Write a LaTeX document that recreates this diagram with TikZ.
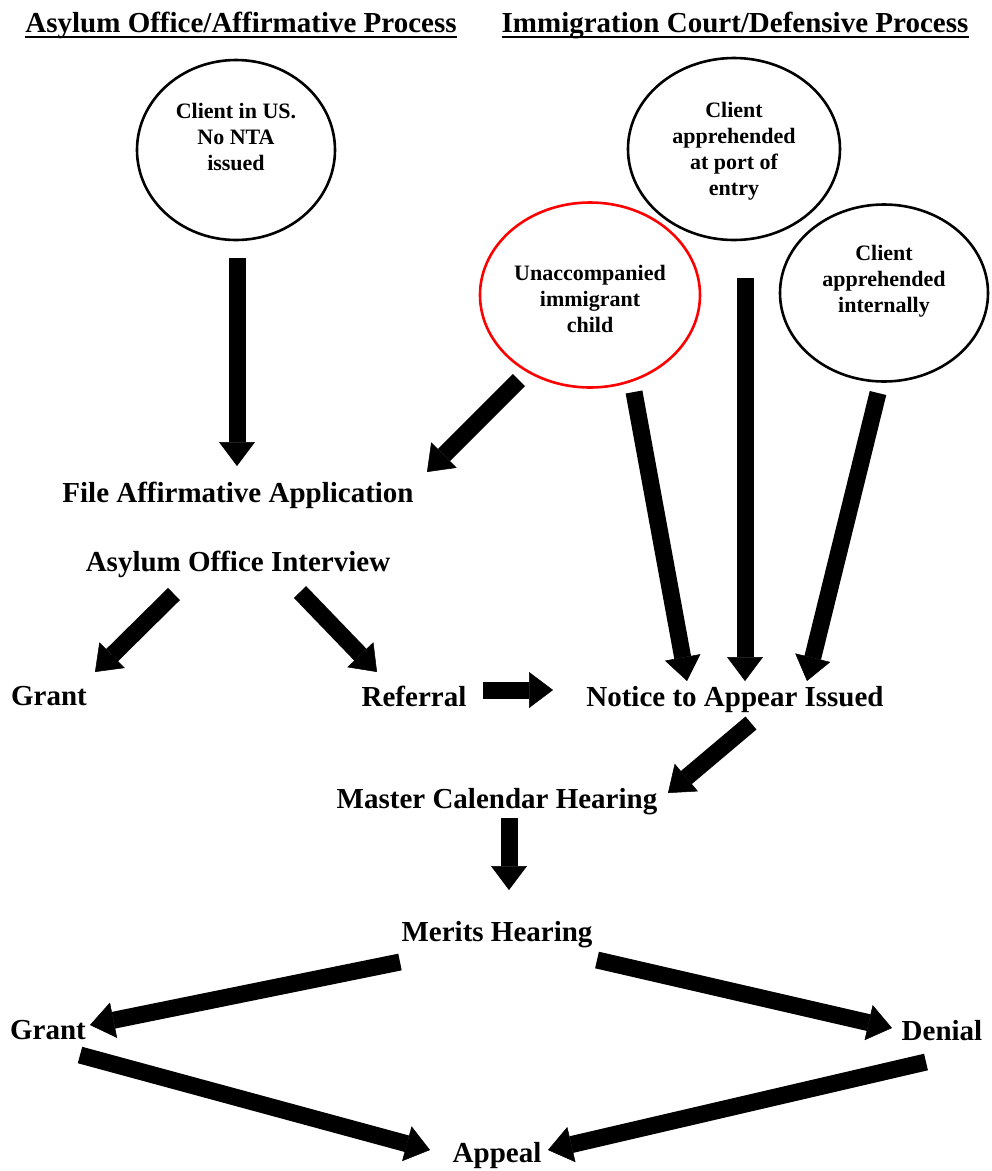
\documentclass[tikz,border=0pt]{standalone}
\usepackage{fontspec}
\setmainfont{Liberation Serif}
\usetikzlibrary{arrows.meta,shapes.geometric}

\begin{document}
\begin{tikzpicture}[x=1pt,y=-1pt,
	every node/.style={font=\fontsize{29}{33}\selectfont\bfseries, inner sep=0pt, text depth=0pt},
	bubble/.style={ellipse, draw, line width=2.6pt},
	bubbletext/.style={align=center, font=\fontsize{22}{26}\selectfont\bfseries},
	heading/.style={anchor=base},
	heavy/.style={line width=17pt, -{Triangle[length=24pt,width=36pt,line width=0.5pt]}}]
	
	\useasboundingbox (0,0) rectangle (992,1171);
	
	% headings
	\node[heading] (affirm) at (241,32) {Asylum Office/Affirmative Process};
	\node[heading] (defend) at (735,32) {Immigration Court/Defensive Process};
	\draw[line width=2pt] ([yshift=-5pt]affirm.base west) -- ([yshift=-5pt]affirm.base east);
	\draw[line width=2pt] ([yshift=-5pt]defend.base west) -- ([yshift=-5pt]defend.base east);
	
	% starting points
	\node[bubble, minimum width=198pt, minimum height=180pt] (inus) at (236,150) {};
	\node[bubbletext] (inusText) at (236,137) {Client in US.\\No NTA\\issued};
	\node[bubble, minimum width=212pt, minimum height=182pt] (port) at (734,149) {};
	\node[bubbletext] (portText) at (734,149) {Client\\apprehended\\at port of\\entry};
	\node[bubble, draw=red, minimum width=220pt, minimum height=185pt] (child) at (590,295) {};
	\node[bubbletext] (childText) at (590,299) {Unaccompanied\\immigrant\\child};
	\node[bubble, minimum width=208pt, minimum height=177pt] (inside) at (884,293) {};
	\node[bubbletext] (insideText) at (884,279) {Client\\apprehended\\internally};
	
	% steps
	\node (file) at (238,492) {File Affirmative Application};
	\node (interview) at (238,561) {Asylum Office Interview};
	\node (grantA) at (49,696) {Grant};
	\node (referral) at (414,696) {Referral};
	\node (notice) at (735,696) {Notice to Appear Issued};
	\node (master) at (497,798) {Master Calendar Hearing};
	\node (merits) at (497,931) {Merits Hearing};
	\node (grantB) at (48,1030) {Grant};
	\node (denial) at (942,1030) {Denial};
	\node (appeal) at (497,1152) {Appeal};
	
	% arrows
	\draw[heavy] ([xshift=1pt,yshift=-108pt]inus.center) -- ([xshift=-1pt,yshift=26pt]file.center);
	\draw[heavy] ([xshift=-71pt,yshift=-85pt]child.center) -- ([xshift=189pt,yshift=20pt]file.center);
	\draw[heavy] ([xshift=44pt,yshift=-97pt]child.center) -- ([xshift=-48pt,yshift=15pt]notice.center);
	\draw[heavy] ([xshift=11pt,yshift=-129pt]port.center) -- ([xshift=10pt,yshift=15pt]notice.center);
	\draw[heavy] ([xshift=-6pt,yshift=-100pt]inside.center) -- ([xshift=72pt,yshift=15pt]notice.center);
	\draw[heavy] ([xshift=-64pt,yshift=-33pt]interview.center) -- ([xshift=46pt,yshift=24pt]grantA.center);
	\draw[heavy] ([xshift=62pt,yshift=-31pt]interview.center) -- ([xshift=-37pt,yshift=24pt]referral.center);
	\draw[heavy] ([xshift=69pt,yshift=6pt]referral.center) -- ([xshift=-182pt,yshift=6pt]notice.center);
	\draw[heavy] ([xshift=16pt,yshift=-27pt]notice.center) -- ([xshift=171pt,yshift=5pt]master.center);
	\draw[heavy] ([xshift=12pt,yshift=-20pt]master.center) -- ([xshift=12pt,yshift=41pt]merits.center);
	\draw[heavy] ([xshift=-97pt,yshift=-31pt]merits.center) -- ([xshift=42pt,yshift=5pt]grantB.center);
	\draw[heavy] ([xshift=100pt,yshift=-29pt]merits.center) -- ([xshift=-50pt,yshift=2pt]denial.center);
	\draw[heavy] ([xshift=32pt,yshift=-25pt]grantB.center) -- ([xshift=-67pt,yshift=2pt]appeal.center);
	\draw[heavy] ([xshift=-16pt,yshift=-32pt]denial.center) -- ([xshift=51pt,yshift=2pt]appeal.center);
\end{tikzpicture}
\end{document}
